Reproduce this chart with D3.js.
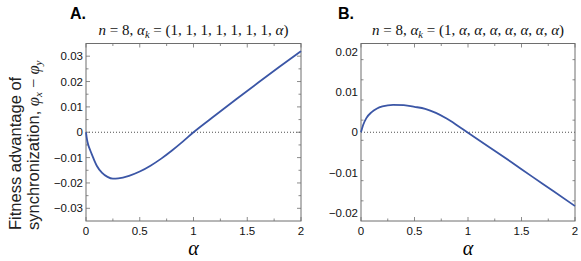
<!DOCTYPE html>
<html>
<head>
  <meta charset='utf-8'>
  <title>Fitness advantage of synchronization</title>
  <script src='https://cdn.jsdelivr.net/npm/d3@7/dist/d3.min.js'></script>
  <style>
    body { margin: 0; background: #fff; }
    svg { font-family: 'Liberation Sans', Arial, sans-serif; }
  </style>
</head>
<body>
  <svg id='plot-area' width='581' height='261'></svg>
  <script>
    // values
    const alphaA = [0, 0.01, 0.02, 0.04, 0.06, 0.08, 0.1, 0.15, 0.2, 0.25, 0.3, 0.4, 0.5,
        0.6, 0.7, 0.8, 0.9, 1.0, 1.2, 1.4, 1.6, 1.8, 2.0];
    const valuesA = [0, -0.0030, -0.0048, -0.0072, -0.0093, -0.0114, -0.0132, -0.0160, -0.0176,
        -0.0183, -0.0182, -0.0172, -0.0155, -0.0132, -0.0104, -0.0072, -0.0037, 0,
        0.0066, 0.0131, 0.0195, 0.0258, 0.0320];
    const alphaB = [0, 0.02, 0.05, 0.1, 0.15, 0.2, 0.3, 0.4, 0.5, 0.6, 0.7, 0.8, 0.9, 1.0,
        1.2, 1.4, 1.6, 1.8, 2.0];
    const valuesB = [0, 0.0018, 0.0035, 0.0050, 0.0059, 0.0064, 0.0068, 0.0067, 0.0063, 0.0058,
        0.0048, 0.0034, 0.0017, -0.0001, -0.0037, -0.0073, -0.0110, -0.0146, -0.0183];
    const xTicks = [0, 0.5, 1, 1.5, 2];
    const yTicksA = [-0.03, -0.02, -0.01, 0, 0.01, 0.02, 0.03];
    const yTicksB = [-0.02, -0.01, 0, 0.01, 0.02];
    const titleRestA = ['1', '1', '1', '1', '1', '1', '1', 'α'];
    const titleRestB = ['1', 'α', 'α', 'α', 'α', 'α', 'α', 'α'];

    const svg = d3.select('#plot-area');
    const frameColor = '#6e6e6e';
    const lineColor = '#3b56a6';
    const mathFont = "'Liberation Serif', 'DejaVu Serif', serif";

    const fmt = (d) => d === 0 ? '0' : d3.format('.2f')(d);

    function drawPanel(p) {
        const w = p.right - p.left;
        const h = p.bottom - p.top;
        const x = d3.scaleLinear().domain([0, 2]).range([0, w]);
        const y = d3.scaleLinear().domain(p.yDomain).range([h, 0]);
        const g = svg.append('g').attr('transform', `translate(${p.left}, ${p.top})`);

        // zero reference line
        g.append('line')
            .attr('x1', 0).attr('x2', w)
            .attr('y1', y(0)).attr('y2', y(0))
            .attr('stroke', '#222').attr('stroke-width', 0.8)
            .attr('stroke-dasharray', '1,2');

        // ticks on all four sides, pointing inward
        const xMinor = d3.range(0, 2.001, 0.25);
        const yMinor = d3.range(p.yDomain[0], p.yDomain[1] + 1e-9, 0.005)
            .map((v) => Math.round(v * 1000) / 1000)
            .filter((v) => v > p.yDomain[0] && v < p.yDomain[1]);
        const tick = g.append('g').attr('stroke', frameColor).attr('stroke-width', 0.8);
        xMinor.forEach((v) => {
            const len = xTicks.includes(v) ? 4 : 2.5;
            tick.append('line').attr('x1', x(v)).attr('x2', x(v)).attr('y1', h).attr('y2', h - len);
            tick.append('line').attr('x1', x(v)).attr('x2', x(v)).attr('y1', 0).attr('y2', len);
        });
        yMinor.forEach((v) => {
            const len = p.yTicks.some((t) => Math.abs(t - v) < 1e-9) ? 4 : 2.5;
            tick.append('line').attr('x1', 0).attr('x2', len).attr('y1', y(v)).attr('y2', y(v));
            tick.append('line').attr('x1', w).attr('x2', w - len).attr('y1', y(v)).attr('y2', y(v));
        });

        g.append('rect')
            .attr('width', w).attr('height', h)
            .attr('fill', 'none').attr('stroke', frameColor).attr('stroke-width', 1);

        // tick labels
        g.selectAll('.xl').data(xTicks).enter().append('text')
            .attr('x', (d) => x(d)).attr('y', h + 14)
            .attr('text-anchor', 'middle').attr('font-size', 11.5).attr('fill', '#111')
            .text((d) => d);
        g.selectAll('.yl').data(p.yTicks).enter().append('text')
            .attr('x', -3).attr('y', (d) => y(d) + 4)
            .attr('text-anchor', 'end').attr('font-size', 11.5).attr('fill', '#111')
            .text(fmt);

        // curve
        const line = d3.line()
            .x((d) => x(d[0]))
            .y((d) => y(d[1]))
            .curve(d3.curveMonotoneX);
        g.append('path')
            .datum(p.xs.map((a, i) => [a, p.ys[i]]))
            .attr('fill', 'none')
            .attr('stroke', lineColor)
            .attr('stroke-width', 1.8)
            .attr('d', line);

        // x axis label
        g.append('text')
            .attr('x', w / 2).attr('y', h + 34)
            .attr('text-anchor', 'middle')
            .attr('font-family', mathFont).attr('font-style', 'italic')
            .attr('font-size', 20)
            .text('α');

        // panel letter
        svg.append('text')
            .attr('x', p.letterX).attr('y', 19)
            .attr('font-size', 16).attr('font-weight', 'bold')
            .text(p.letter);

        // title
        const t = svg.append('text')
            .attr('x', p.left + w / 2).attr('y', 35)
            .attr('text-anchor', 'middle')
            .attr('font-family', mathFont).attr('font-size', 15).attr('fill', '#111');
        t.append('tspan').attr('font-style', 'italic').text('n');
        t.append('tspan').text(' = 8,  ');
        t.append('tspan').attr('font-style', 'italic').text('α');
        t.append('tspan').attr('font-style', 'italic').attr('font-size', 10.5).attr('dy', 3).text('k');
        t.append('tspan').attr('dy', -3).text(' = (');
        p.titleRest.forEach((s, i) => {
            t.append('tspan').attr('font-style', s === 'α' ? 'italic' : null).text(s);
            if (i < p.titleRest.length - 1) t.append('tspan').text(', ');
        });
        t.append('tspan').text(')');
    }

    drawPanel({
        letter: 'A.', letterX: 70,
        left: 86, right: 301, top: 43.5, bottom: 221,
        yDomain: [-0.035, 0.035], yTicks: yTicksA,
        xs: alphaA, ys: valuesA, titleRest: titleRestA
    });
    drawPanel({
        letter: 'B.', letterX: 338,
        left: 361, right: 575, top: 43.5, bottom: 221,
        yDomain: [-0.022, 0.022], yTicks: yTicksB,
        xs: alphaB, ys: valuesB, titleRest: titleRestB
    });

    // y axis label, two lines, starting at the bottom
    const yl = svg.append('g').attr('transform', 'translate(0, 230) rotate(-90)');
    yl.append('text')
        .attr('x', 0).attr('y', 21)
        .attr('text-anchor', 'start').attr('font-size', 16.5).attr('fill', '#222')
        .text('Fitness advantage of');
    const l2 = yl.append('text')
        .attr('x', 0).attr('y', 39)
        .attr('text-anchor', 'start').attr('font-size', 16.5).attr('fill', '#222');
    l2.append('tspan').text('synchronization, ');
    l2.append('tspan').attr('font-family', mathFont).attr('font-style', 'italic').text('φ');
    l2.append('tspan').attr('font-family', mathFont).attr('font-style', 'italic')
        .attr('font-size', 11).attr('dy', 3).text('x');
    l2.append('tspan').attr('font-family', mathFont).attr('dy', -3).text(' − ');
    l2.append('tspan').attr('font-family', mathFont).attr('font-style', 'italic').text('φ');
    l2.append('tspan').attr('font-family', mathFont).attr('font-style', 'italic')
        .attr('font-size', 11).attr('dy', 3).text('y');
  </script>
</body>
</html>
